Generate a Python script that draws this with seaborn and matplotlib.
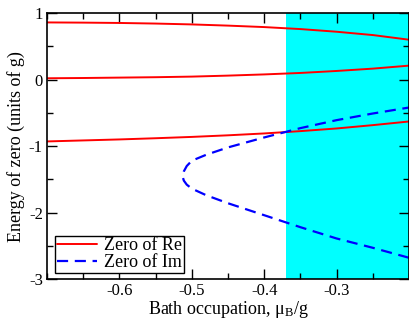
import numpy as np
import pandas as pd
import matplotlib
matplotlib.use("Agg")
import matplotlib.pyplot as plt
from matplotlib.ticker import MultipleLocator
import seaborn as sns

# Real-part zeros (three branches) versus bath occupation
mu_re = [-0.70, -0.65, -0.60, -0.55, -0.50, -0.45, -0.40, -0.35, -0.30, -0.25, -0.20]
re_top = [0.86, 0.857, 0.852, 0.843, 0.83, 0.812, 0.79, 0.76, 0.72, 0.67, 0.60]
re_mid = [0.02, 0.024, 0.03, 0.036, 0.045, 0.06, 0.078, 0.10, 0.13, 0.165, 0.21]
re_bot = [-0.93, -0.915, -0.90, -0.882, -0.862, -0.838, -0.81, -0.775, -0.735, -0.685, -0.63]

# Imaginary-part zero: a single curve folding back at mu ~ -0.513
mu_im = [-0.20, -0.25, -0.30, -0.35, -0.40, -0.45, -0.48, -0.50, -0.507, -0.511, -0.513,
         -0.511, -0.507, -0.50, -0.48, -0.45, -0.40, -0.35, -0.30, -0.25, -0.20]
im_val = [-2.68, -2.53, -2.39, -2.22, -2.04, -1.86, -1.74, -1.64, -1.58, -1.52, -1.45,
          -1.38, -1.30, -1.22, -1.13, -1.02, -0.87, -0.73, -0.61, -0.51, -0.42]

shade_start = -0.37

sns.set_theme(style="ticks")
plt.rcParams["font.family"] = ["Liberation Serif", "DejaVu Serif"]
plt.rcParams["mathtext.fontset"] = "custom"
plt.rcParams["mathtext.rm"] = "Liberation Serif"
plt.rcParams["text.color"] = "black"
plt.rcParams["axes.labelcolor"] = "black"

fig = plt.figure(figsize=(4.09, 3.2), dpi=100)
ax = fig.add_axes([0.115, 0.128, 0.885, 0.831])

ax.axvspan(shade_start, -0.2, color="#00ffff", lw=0, zorder=0)

re_df = pd.DataFrame({
    "mu": mu_re * 3,
    "E": re_top + re_mid + re_bot,
    "branch": ["top"] * len(mu_re) + ["mid"] * len(mu_re) + ["bot"] * len(mu_re),
})
sns.lineplot(data=re_df, x="mu", y="E", units="branch", estimator=None,
             color="#ff0000", lw=1.4, ax=ax, legend=False)
im_df = pd.DataFrame({"mu": mu_im, "E": im_val})
sns.lineplot(data=im_df, x="mu", y="E", sort=False, estimator=None,
             color="#0000ff", lw=1.6, ax=ax, legend=False, dashes=False)
ax.lines[-1].set_linestyle((0, (5, 3)))

ax.plot([], [], color="#ff0000", lw=1.4, label="Zero of Re")
ax.plot([], [], color="#0000ff", lw=1.6, ls=(0, (5, 3)), label="Zero of Im")
leg = ax.legend(loc="lower left", bbox_to_anchor=(0.022, 0.022), fontsize=13,
                frameon=True, fancybox=False, edgecolor="black", framealpha=1,
                handlelength=2.2, handletextpad=0.4, borderpad=0.1,
                labelspacing=0.0, borderaxespad=0, labelcolor="black")
leg.get_frame().set_linewidth(1.0)

ax.set_xlim(-0.7, -0.2)
ax.set_ylim(-3, 1)
ax.xaxis.set_minor_locator(MultipleLocator(0.05))
ax.yaxis.set_minor_locator(MultipleLocator(0.5))
ax.set_xticks([-0.6, -0.5, -0.4, -0.3])
ax.set_xticklabels(["-0.6", "-0.5", "-0.4", "-0.3"])
ax.set_yticks([-3, -2, -1, 0, 1])
ax.set_yticklabels(["-3", "-2", "-1", "0", "1"])
ax.tick_params(which="both", direction="in", top=True, right=True,
               width=1.0, colors="black", labelsize=12, pad=3)
ax.tick_params(which="major", length=7)
ax.tick_params(which="minor", length=4)
for s in ax.spines.values():
    s.set_linewidth(1.2)
    s.set_color("black")

ax.set_xlabel(r"Bath occupation, μ$\mathregular{_B}$/g", fontsize=13, labelpad=0)
ax.set_ylabel("Energy of zero (units of g)", fontsize=13, labelpad=3)

fig.savefig("out.png", dpi=100)
